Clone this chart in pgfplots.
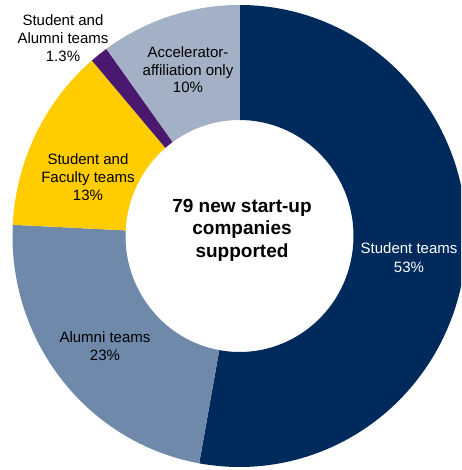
\documentclass[border=0pt]{standalone}
\usepackage{pgfplots}
\pgfplotsset{compat=1.18}
\usepackage{fontspec}
\setmainfont{Liberation Sans}
\definecolor{cStudent}{HTML}{002A5C}
\definecolor{cAlumni}{HTML}{6F89AB}
\definecolor{cFaculty}{HTML}{FFCC00}
\definecolor{cStudAlum}{HTML}{4A186E}
\definecolor{cAccel}{HTML}{A3B0C5}
% share of the ring (percent)
\def\vA{53}%  Student teams
\def\vB{23}%  Alumni teams
\def\vC{13}%  Student and Faculty teams
\def\vD{1.3}% Student and Alumni teams
\def\vE{10}%  Accelerator-affiliation only
\newcommand\ringwedge[3]{%
  \fill[#3] ([shift={(#1:227pt and 231pt)}]axis cs:239.5,234)
    arc[start angle=#1,end angle=#2,x radius=227pt,y radius=231pt]
    -- ([shift={(#2:114pt and 116pt)}]axis cs:239.5,234)
    arc[start angle=#2,end angle=#1,x radius=114pt,y radius=116pt] -- cycle;}
\begin{document}
\begin{tikzpicture}
\pgfmathsetmacro\T{\vA+\vB+\vC+\vD+\vE}
\pgfmathsetmacro\aO{90}
\pgfmathsetmacro\aA{90-360*(\vA/\T)}
\pgfmathsetmacro\aB{\aA-360*(\vB/\T)}
\pgfmathsetmacro\aC{\aB-360*(\vC/\T)}
\pgfmathsetmacro\aD{\aC-360*(\vD/\T)}
\pgfmathsetmacro\aE{\aD-360*(\vE/\T)}
\begin{axis}[
  at={(0,0)}, anchor=south west,
  scale only axis, width=461pt, height=470pt,
  xmin=0, xmax=461, ymin=0, ymax=470,
  hide axis, clip=true,
]
\ringwedge{\aO}{\aA}{cStudent}
\ringwedge{\aA}{\aB}{cAlumni}
\ringwedge{\aB}{\aC}{cFaculty}
\ringwedge{\aC}{\aD}{cStudAlum}
\ringwedge{\aD}{\aE}{cAccel}
\node[align=center, text=white, font=\fontsize{15}{18.5}\selectfont] at (axis cs:409,212.5) {Student teams\\53\%};
\node[align=center, text=black, font=\fontsize{15}{18.5}\selectfont] at (axis cs:105,124) {Alumni teams\\23\%};
\node[align=center, text=black, font=\fontsize{15}{18}\selectfont] at (axis cs:88,293) {Student and\\Faculty teams\\13\%};
\node[align=center, text=black, font=\fontsize{15}{18}\selectfont] at (axis cs:63,432) {Student and\\Alumni teams\\1.3\%};
\node[align=center, text=black, font=\fontsize{15}{17.5}\selectfont] at (axis cs:188,400) {Accelerator-\\affiliation only\\10\%};
\node[align=center, text=black, font=\fontsize{19}{22.5}\selectfont\bfseries] at (axis cs:242,240) {79 new start-up\\companies\\supported};
\end{axis}
\path (0,0) rectangle (461pt,470pt);
\end{tikzpicture}
\end{document}
